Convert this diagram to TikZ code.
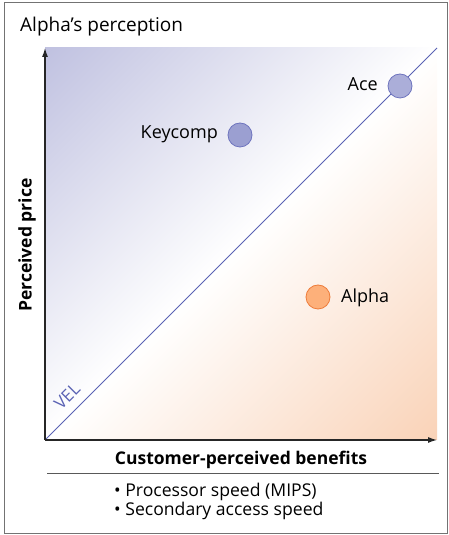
\documentclass[tikz,border=0pt]{standalone}
\usepackage{fontspec}
\setmainfont{Open Sans}
\usetikzlibrary{arrows.meta}
\definecolor{bluec}{HTML}{A6A8D4}
\definecolor{orangec}{HTML}{F7C09A}
\definecolor{linec}{HTML}{5A62B4}
\definecolor{cblue}{HTML}{ABAED9}
\definecolor{cblued}{HTML}{9B9FD1}
\definecolor{cbord}{HTML}{6E74BE}
\definecolor{corange}{HTML}{FDB07A}
\definecolor{cobord}{HTML}{EE7C3A}
\pgfdeclarehorizontalshading{vel}{100bp}{color(0bp)=(bluec); color(50bp)=(white); color(100bp)=(orangec)}
\tikzset{
  axisline/.style={draw=black!85, line width=1.2pt, -{Latex[length=9pt,width=6pt]}},
  dot/.style={circle, minimum size=24pt, inner sep=0pt, line width=0.8pt},
  lbl/.style={font=\fontsize{18}{20}\selectfont, inner sep=0pt},
  bullet/.style={font=\fontsize{17.6}{19}\selectfont, inner sep=0pt},
  bold/.style={font=\fontsize{17.5}{20}\selectfont\bfseries, inner sep=0pt}
}
\begin{document}
\begin{tikzpicture}[x=1pt,y=1pt]
\useasboundingbox (0,0) rectangle (449,535);
\draw[black!55, line width=0.8pt] (4.5,2) rectangle (447,532.5);
\node[font=\fontsize{19}{21}\selectfont, inner sep=0pt, anchor=west] (title) at (20,508) {Alpha’s perception};
% shaded plot area
\shade[shading=vel, shading angle=-45] (45,95) rectangle (437,487);
\coordinate (origin) at (45,95);
\coordinate (ytop) at (45,487);
\coordinate (xend) at (437,95);
\coordinate (dend) at (437,487);
\draw[linec, line width=0.9pt] (origin) -- (dend);
\draw[axisline] (origin) -- (ytop);
\draw[axisline] (origin) -- (xend);
\node[font=\fontsize{17}{19}\selectfont, text=linec, rotate=45, inner sep=0pt] (vel) at (67,139) {VEL};
% points
\node[dot, fill=cblue, draw=cbord] (ace) at (400,449) {};
\node[lbl, anchor=east] (acel) at (378,451) {Ace};
\node[dot, fill=cblued, draw=cbord] (key) at (240,400) {};
\node[lbl, anchor=east] (keyl) at (218,401) {Keycomp};
\node[dot, fill=corange, draw=cobord] (alpha) at (318,238) {};
\node[lbl, anchor=west] (alphal) at (341,237) {Alpha};
% axis titles
\node[bold, rotate=90] (ylab) at (27,290) {Perceived price};
\node[bold] (xlab) at (241,75) {Customer-perceived benefits};
\coordinate (sepl) at (47,62);
\coordinate (sepr) at (439,62);
\draw[black!65, line width=0.8pt] (sepl) -- (sepr);
\node[bullet, anchor=west] (b1) at (114,43) {• Processor speed (MIPS)};
\node[bullet, anchor=west] (b2) at (114,24) {• Secondary access speed};
\end{tikzpicture}
\end{document}
